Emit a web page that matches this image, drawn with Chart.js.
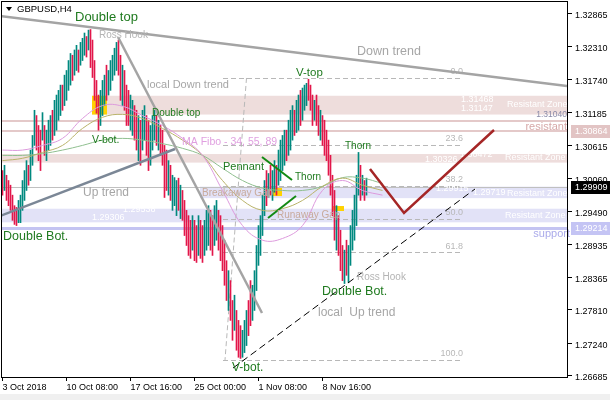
<!DOCTYPE html>
<html>
<head>
<meta charset="utf-8">
<script src="https://cdn.jsdelivr.net/npm/chart.js@4.4.0/dist/chart.umd.min.js"></script>
<style>
  html, body { margin: 0; padding: 0; background: #fff; }
</style>
</head>
<body>
<canvas id="chart" width="610" height="400"></canvas>
<script>
// GBPUSD H4, one entry per bar
const highs = [
  1.3019,1.3028,1.3011,1.3002,1.2994,1.2977,1.2959,1.2956,1.2968,1.2977,
  1.3002,1.3019,1.3036,1.3028,1.3054,1.3079,1.3122,1.3113,1.3096,1.3088,
  1.3118,1.3096,1.3088,1.3105,1.3113,1.3122,1.3139,1.3148,1.3156,1.3165,
  1.3165,1.3182,1.3190,1.3207,1.3219,1.3216,1.3225,1.3233,1.3225,1.3238,
  1.3245,1.3254,1.3248,1.3259,1.3260,1.3242,1.3207,1.3173,1.3148,1.3156,
  1.3173,1.3182,1.3199,1.3190,1.3207,1.3216,1.3228,1.3238,1.3242,1.3216,
  1.3199,1.3190,1.3165,1.3156,1.3148,1.3139,1.3130,1.3122,1.3113,1.3105,
  1.3122,1.3130,1.3113,1.3105,1.3096,1.3113,1.3122,1.3113,1.3105,1.3096,
  1.3088,1.3062,1.3054,1.3036,1.3028,1.3011,1.3007,1.3002,1.3006,1.2994,
  1.2985,1.2968,1.2951,1.2942,1.2934,1.2942,1.2934,1.2925,1.2942,1.2934,
  1.2925,1.2934,1.2951,1.2959,1.2951,1.2942,1.2959,1.2968,1.2951,1.2942,
  1.2925,1.2900,1.2865,1.2848,1.2831,1.2797,1.2806,1.2780,1.2763,1.2754,
  1.2746,1.2763,1.2780,1.2797,1.2831,1.2823,1.2848,1.2891,1.2925,1.2942,
  1.2977,1.3002,1.3019,1.3014,1.3028,1.3019,1.3036,1.3028,1.3054,1.3071,
  1.3079,1.3088,1.3088,1.3105,1.3122,1.3130,1.3122,1.3139,1.3148,1.3156,
  1.3160,1.3165,1.3168,1.3175,1.3165,1.3148,1.3139,1.3148,1.3130,1.3122,
  1.3113,1.3105,1.3088,1.3071,1.3045,1.3011,1.2985,1.2959,1.2942,1.2917,
  1.2891,1.2883,1.2900,1.2891,1.2925,1.2951,1.2977,1.3011,1.3050,1.3028,
  1.3011,1.3002,1.3006
];
const lows = [
  1.2977,1.2985,1.2968,1.2959,1.2951,1.2934,1.2927,1.2925,1.2930,1.2930,
  1.2951,1.2968,1.2985,1.2994,1.3002,1.3028,1.3062,1.3054,1.3036,1.3019,
  1.3071,1.3045,1.3036,1.3054,1.3062,1.3071,1.3079,1.3088,1.3105,1.3113,
  1.3122,1.3130,1.3139,1.3156,1.3165,1.3173,1.3182,1.3190,1.3187,1.3199,
  1.3207,1.3216,1.3213,1.3225,1.3195,1.3178,1.3139,1.3117,1.3088,1.3096,
  1.3113,1.3130,1.3139,1.3148,1.3156,1.3173,1.3182,1.3190,1.3182,1.3139,
  1.3130,1.3122,1.3096,1.3096,1.3088,1.3079,1.3071,1.3054,1.3036,1.3028,
  1.3054,1.3071,1.3045,1.3019,1.3028,1.3054,1.3071,1.3062,1.3054,1.3045,
  1.3028,1.2973,1.2985,1.2977,1.2968,1.2951,1.2959,1.2942,1.2951,1.2937,
  1.2934,1.2908,1.2891,1.2874,1.2869,1.2883,1.2865,1.2862,1.2874,1.2869,
  1.2862,1.2874,1.2883,1.2891,1.2883,1.2874,1.2891,1.2900,1.2883,1.2865,
  1.2848,1.2823,1.2797,1.2780,1.2763,1.2729,1.2746,1.2712,1.2700,1.2698,
  1.2700,1.2708,1.2720,1.2737,1.2754,1.2763,1.2780,1.2814,1.2857,1.2874,
  1.2908,1.2942,1.2959,1.2973,1.2977,1.2968,1.2982,1.2977,1.2994,1.3002,
  1.3019,1.3028,1.3036,1.3045,1.3054,1.3071,1.3079,1.3084,1.3088,1.3096,
  1.3105,1.3122,1.3130,1.3139,1.3122,1.3096,1.3105,1.3096,1.3079,1.3071,
  1.3062,1.3045,1.3036,1.3011,1.2977,1.2942,1.2900,1.2883,1.2874,1.2848,
  1.2831,1.2826,1.2840,1.2828,1.2857,1.2883,1.2900,1.2925,1.2977,1.2968,
  1.2977,1.2968,1.2977
];
// u = bull bar, d = bear bar
const dirs = 'dudddddduu' + 'uuuduuuddd' + 'uduuuduuuu' + 'duuuuduudu' + 'uududddddu' +
             'uuduuuuudd' + 'uddduuddud' + 'uudduuudud' + 'ddduduuudu' + 'ddddduddud' +
             'duuudduudd' + 'dddudduddd' + 'uuudduuuuu' + 'uududuuduu' + 'uuduuuduud' +
             'uuuddduddu' + 'dddddddudd' + 'duduuuuuududu';

// moving averages (MA Fibo 34, 55, 89), sampled every 10 bars
const maBars = [0,10,20,30,40,50,60,70,80,90,100,110,120,130,140,150,160,170,180,190];
const ma34 = [1.3054,1.3054,1.3062,1.3074,1.3108,1.3130,1.3129,1.3113,1.3096,1.3074,
              1.3045,1.2985,1.2925,1.2900,1.2903,1.2925,1.2985,1.3002,1.2985,1.2977];
const ma55 = [1.3036,1.3040,1.3050,1.3062,1.3091,1.3110,1.3115,1.3108,1.3091,1.3071,
              1.3045,1.3002,1.2968,1.2951,1.2954,1.2968,1.2992,1.3006,1.2994,1.2985];
const ma89 = [1.3045,1.3045,1.3048,1.3054,1.3062,1.3071,1.3074,1.3071,1.3065,1.3057,
              1.3045,1.3023,1.3002,1.2989,1.2985,1.2985,1.2992,1.3007,1.3006,1.2997];

const yTicks = [1.32865,1.32310,1.31740,1.31185,1.30615,1.30060,1.29490,1.28935,1.28365,1.27810,1.27240,1.26685];
const xTickBars = [0, 32, 64, 96, 128, 160];
const xTickLabels = ['3 Oct 2018', '10 Oct 08:00', '17 Oct 16:00', '25 Oct 00:00', '1 Nov 08:00', '8 Nov 16:00'];

// zones: [startBar, low, high]
const pinkZones = [[44.75, 1.31147, 1.31468], [-1.25, 1.30326, 1.30472]];
const blueZones = [[98.75, 1.29719, 1.29915], [-1.25, 1.29306, 1.29538]];
const resistLevels = [1.31040, 1.30864];
const supportLevel = 1.29214;
const bidPrice = 1.29909;

// fibonacci retracement
const fibLevels = [0, 23.6, 38.2, 50, 61.8, 100];
const fibHigh = 1.31772, fibLow = 1.26954;
const fibBars = [110.25, 229.75];

// drawn lines: [bar1, price1, bar2, price2]
const downTrend = [-1.25, 1.32831, 282.25, 1.31635];
const upTrend = [-1.25, 1.29413, 86.25, 1.30558];
const hookLine = [57.75, 1.32472, 129.75, 1.27756];
const localUp = [115.25, 1.26816, 236.25, 1.29875];
const pennantTop = [129.75, 1.30422, 144.75, 1.30029];
const pennantBot = [132.75, 1.29379, 146.75, 1.29755];
const projBars = [183.75, 200.75, 245.75];
const projPrices = [1.30216, 1.29465, 1.30883];

// highlight boxes: [bar1, bar2, priceTop, priceBottom]
const boxes = [[44.75, 52.25, 1.31468, 1.31147], [134.75, 139.75, 1.29892, 1.29755], [164.75, 170.75, 1.29584, 1.29499]];

// text notes: [text, bar, price, size, kind]
const notes = [
  ['Double top', 36.25, 1.32814, 13, 'g'],
  ['Ross Hook', 48.25, 1.32506, 10, 'l'],
  ['local Down trend', 72.25, 1.31652, 11, 'm'],
  ['V-top', 146.75, 1.31857, 11.5, 'g'],
  ['Down trend', 177.25, 1.32216, 12.5, 'm'],
  ['Double top', 74.75, 1.31173, 10, 'g'],
  ['V-bot.', 44.75, 1.30712, 10.5, 'g'],
  ['MA Fibo - 34, 55, 89', 89.75, 1.30678, 10.5, 'p'],
  ['Pennant', 110.25, 1.30251, 11, 'g'],
  ['Thorn', 146.25, 1.30080, 10, 'g'],
  ['Thorn', 171.25, 1.30610, 10, 'g'],
  ['Up trend', 40.25, 1.29806, 12, 'm'],
  ['Breakaway Gap', 99.75, 1.29806, 10, 't'],
  ['Runaway Gap', 137.25, 1.29430, 10, 't'],
  ['Double Bot.', 0.25, 1.29055, 12.5, 'g'],
  ['Ross Hook', 177.25, 1.28371, 10, 'l'],
  ['Double Bot.', 159.75, 1.28115, 12.5, 'g'],
  ['local  Up trend', 157.75, 1.27756, 12, 'm'],
  ['V-bot.', 114.75, 1.26816, 12, 'g']
];

const FONT = 'Liberation Sans, Arial, sans-serif';
const noteColors = { g: '#1f7a1f', l: '#b4b4b4', m: '#a6a6a6', p: '#e0a0e0', t: '#c8aa9c' };

const overlay = {
  id: 'overlay',
  beforeDatasetsDraw(chart) {
    const c = chart.ctx, a = chart.chartArea;
    const xs = chart.scales.x, ys = chart.scales.y;
    const X = v => xs.getPixelForValue(v), Y = v => ys.getPixelForValue(v);
    c.save();
    c.beginPath(); c.rect(a.left, a.top, a.right - a.left, a.bottom - a.top); c.clip();

    pinkZones.forEach(z => {
      c.fillStyle = '#eedddc';
      c.fillRect(Math.max(a.left, X(z[0])), Y(z[2]), a.right - Math.max(a.left, X(z[0])), Y(z[1]) - Y(z[2]));
    });
    blueZones.forEach(z => {
      c.fillStyle = '#e2e2f7';
      c.fillRect(Math.max(a.left, X(z[0])), Y(z[2]), a.right - Math.max(a.left, X(z[0])), Y(z[1]) - Y(z[2]));
    });
    c.fillStyle = '#e4c9c9';
    resistLevels.forEach(p => c.fillRect(a.left, Math.round(Y(p)) - 1, a.right - a.left, 2));
    c.fillStyle = '#c4c4f2';
    c.fillRect(a.left, Math.round(Y(supportLevel)) - 1, a.right - a.left, 3);

    // bid line
    c.fillStyle = '#c0c0c0';
    c.fillRect(a.left, Math.round(Y(bidPrice)), a.right - a.left, 1);

    // fibo
    c.strokeStyle = '#b8b8b8'; c.lineWidth = 1; c.setLineDash([5, 3]);
    fibLevels.forEach(l => {
      const y = Math.round(Y(fibHigh - (fibHigh - fibLow) * l / 100)) + 0.5;
      c.beginPath(); c.moveTo(X(fibBars[0]), y); c.lineTo(X(fibBars[1]), y); c.stroke();
    });
    c.beginPath(); c.moveTo(X(122), Y(fibHigh)); c.lineTo(X(111.25), Y(fibLow)); c.stroke();
    c.setLineDash([]);
    c.font = '9px ' + FONT; c.fillStyle = '#b8b8b8'; c.textAlign = 'right'; c.textBaseline = 'middle';
    fibLevels.forEach(l => {
      const y = Y(fibHigh - (fibHigh - fibLow) * l / 100) - 6;
      c.fillText(l.toFixed(1), X(fibBars[1]) + 1, y);
    });

    // yellow boxes
    c.fillStyle = '#ffd200';
    boxes.forEach(b => c.fillRect(X(b[0]), Y(b[2]), X(b[1]) - X(b[0]), Y(b[3]) - Y(b[2])));

    // zone labels
    c.font = '9px ' + FONT; c.fillStyle = '#ffffff'; c.textAlign = 'left';
    c.fillText('1.31468', X(229.25), Y(1.31410));
    c.fillText('1.31147', X(229.25), Y(1.31250));
    c.fillText('1.30326', X(211.25), Y(1.30380));
    c.fillText('1.30472', X(228.75), Y(1.30472));
    c.fillText('1.29915', X(216.75), Y(1.29880));
    c.fillText('1.29719', X(235.25), Y(1.29810));
    c.fillText('1.29538', X(60.25), Y(1.29520));
    c.fillText('1.29306', X(44.75), Y(1.29380));
    c.fillText('Resistant Zone', X(252.25), Y(1.31320));
    c.fillText('Resistant Zone', X(251.25), Y(1.30420));
    c.fillText('Resistant Zone', X(252.25), Y(1.29800));
    c.fillText('Resistant Zone', X(251.25), Y(1.29430));
    c.restore();
  },
  afterDatasetsDraw(chart) {
    const c = chart.ctx, a = chart.chartArea;
    const xs = chart.scales.x, ys = chart.scales.y;
    const X = v => xs.getPixelForValue(v), Y = v => ys.getPixelForValue(v);
    const seg = (l, color, w, dash) => {
      c.strokeStyle = color; c.lineWidth = w; c.setLineDash(dash || []);
      c.beginPath(); c.moveTo(X(l[0]), Y(l[1])); c.lineTo(X(l[2]), Y(l[3])); c.stroke();
    };
    c.save();
    c.beginPath(); c.rect(a.left, a.top, a.right - a.left, a.bottom - a.top); c.clip();
    seg(downTrend, '#a4a4a4', 2.5);
    seg(upTrend, '#7b8796', 2.5);
    seg(hookLine, '#a4a4a4', 2.5);
    seg(localUp, '#000000', 1, [7, 4]);
    seg(pennantTop, '#138a13', 2);
    seg(pennantBot, '#138a13', 2);
    c.setLineDash([]);
    c.strokeStyle = '#a52626'; c.lineWidth = 2.5;
    c.beginPath();
    projBars.forEach((b, k) => k ? c.lineTo(X(b), Y(projPrices[k])) : c.moveTo(X(b), Y(projPrices[k])));
    c.stroke();

    c.textAlign = 'left'; c.textBaseline = 'middle';
    notes.forEach(n => {
      c.font = n[3] + 'px ' + FONT;
      c.fillStyle = noteColors[n[4]];
      c.fillText(n[0], X(n[1]), Y(n[2]));
    });
    c.textAlign = 'right';
    c.font = '8.5px ' + FONT;
    c.fillStyle = '#8a8aa8'; c.fillText('1.31040', a.right - 1, Y(1.31140));
    c.font = '11px ' + FONT;
    c.fillStyle = '#d6a8a8'; c.fillText('resistant', a.right - 1, Y(1.30940));
    c.restore();

    c.save();
    c.font = '11px ' + FONT; c.textAlign = 'right'; c.textBaseline = 'middle';
    c.fillStyle = '#aaaaea'; c.fillText('support', a.right + 2, Y(1.29110));
    c.restore();

    // frame
    c.strokeStyle = '#000'; c.lineWidth = 1;
    c.strokeRect(a.left - 0.5, a.top - 0.5, a.right - a.left, a.bottom - a.top + 1);
  },
  afterDraw(chart) {
    const c = chart.ctx, a = chart.chartArea;
    const ys = chart.scales.y;
    const Y = v => ys.getPixelForValue(v);
    c.save();
    const tag = (price, bg) => {
      const y = Math.round(Y(price));
      c.fillStyle = bg; c.fillRect(a.right + 3, y - 6, 39, 13);
      c.fillStyle = '#fff'; c.font = '9px ' + FONT; c.textAlign = 'left'; c.textBaseline = 'middle';
      c.fillText(price.toFixed(5), a.right + 7, y + 1);
    };
    tag(1.30864, '#e2c4c4');
    tag(bidPrice, '#000000');
    tag(supportLevel, '#c4c4f4');

    c.fillStyle = '#000';
    c.beginPath(); c.moveTo(6, 7); c.lineTo(12, 7); c.lineTo(9, 11); c.closePath(); c.fill();
    c.font = '9.5px ' + FONT; c.textAlign = 'left'; c.textBaseline = 'middle';
    c.fillText('GBPUSD,H4', 17, 9);

    c.fillStyle = '#f0f0f0';
    c.fillRect(0, 394, 610, 6);
    c.restore();
  }
};

const TEAL = '#00897f', RED = '#e2164a';
const candleData = highs.map((h, i) => ({ x: i, y: [lows[i], h] }));
const candleColors = dirs.split('').map(d => (d === 'u' ? TEAL : RED));
const maLine = vals => vals.map((v, k) => ({ x: maBars[k], y: v }));

Chart.defaults.font.family = FONT;
const ctx = document.getElementById('chart').getContext('2d');
new Chart(ctx, {
  type: 'bar',
  data: {
    datasets: [
      { type: 'bar', data: candleData, backgroundColor: candleColors, barThickness: 1, borderWidth: 0, order: 2 },
      { type: 'line', data: maLine(ma34), borderColor: '#dd9add', borderWidth: 1, pointRadius: 0, tension: 0.4, order: 1 },
      { type: 'line', data: maLine(ma55), borderColor: '#b9b36a', borderWidth: 1, pointRadius: 0, tension: 0.4, order: 1 },
      { type: 'line', data: maLine(ma89), borderColor: '#8fbf8f', borderWidth: 1, pointRadius: 0, tension: 0.4, order: 1 }
    ]
  },
  options: {
    responsive: false,
    animation: false,
    layout: { padding: { left: 2, top: 2, right: 0, bottom: 0 } },
    plugins: { legend: { display: false }, tooltip: { enabled: false } },
    scales: {
      x: {
        type: 'linear', min: -0.25, max: 282.75, offset: false,
        afterBuildTicks: s => { s.ticks = xTickBars.map(v => ({ value: v })); },
        afterFit: s => { s.height = 23; s.paddingLeft = 0; s.paddingRight = 0; },
        ticks: {
          autoSkip: false, maxRotation: 0, align: 'start', padding: 1,
          color: '#000', font: { size: 9, family: FONT },
          callback: v => xTickLabels[xTickBars.indexOf(v)]
        },
        grid: { offset: false, drawOnChartArea: false, drawTicks: true, tickLength: 4, color: '#000' },
        border: { display: false }
      },
      y: {
        position: 'right', min: 1.26663, max: 1.33070,
        afterBuildTicks: s => { s.ticks = yTicks.map(v => ({ value: v })); },
        afterFit: s => { s.width = 42; s.paddingTop = 0; s.paddingBottom = 0; },
        ticks: {
          crossAlign: 'near', padding: 3, labelOffset: 2,
          color: '#000', font: { size: 9, family: FONT },
          callback: v => v.toFixed(5)
        },
        grid: { drawOnChartArea: false, drawTicks: true, tickLength: 4, color: '#000' },
        border: { display: false }
      }
    }
  },
  plugins: [overlay]
});
</script>
</body>
</html>
